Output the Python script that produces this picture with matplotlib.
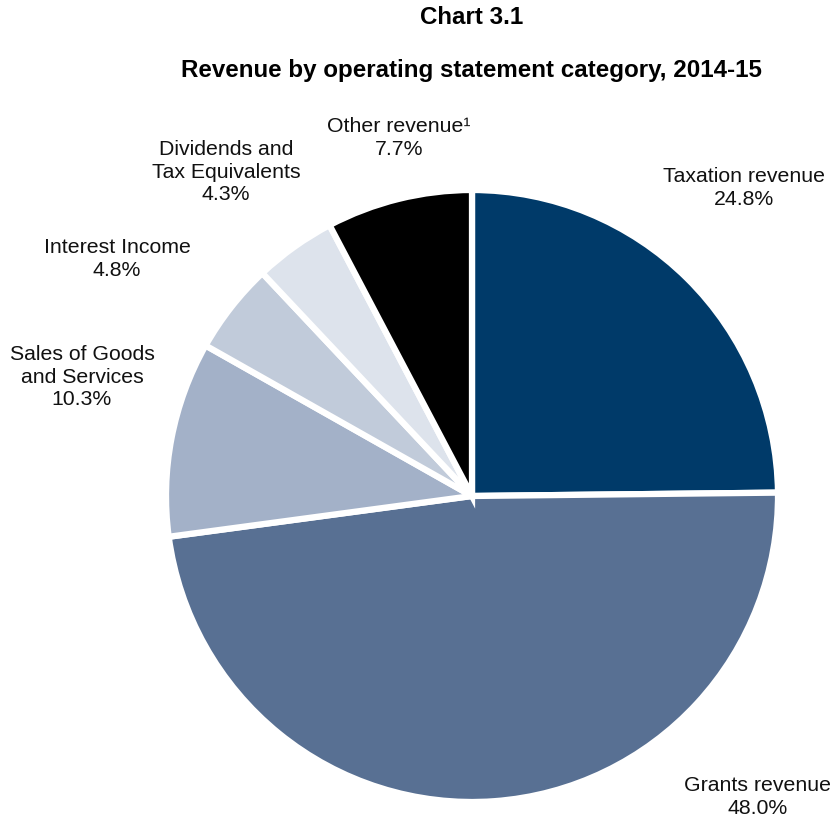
import matplotlib.pyplot as plt

plt.rcParams['font.family'] = ['Liberation Sans', 'DejaVu Sans']

# revenue shares, clockwise from 12 o'clock
categories = ['Taxation revenue', 'Grants revenue', 'Sales of Goods\nand Services',
              'Interest Income', 'Dividends and\nTax Equivalents', 'Other revenue\u00b9']
shares = [24.8, 48.0, 10.3, 4.8, 4.3, 7.7]
colours = ['#003a69', '#587093', '#a3b1c8', '#c1cbda', '#dde3ec', '#000000']

# label anchor points (figure pixels, origin bottom-left)
label_pos = [(744, 629), (758, 20), (82, 440), (117, 558), (226, 645), (399, 679)]

W, H = 833, 817
fig = plt.figure(figsize=(W / 100, H / 100), dpi=100)
ax = fig.add_axes([0, 0, 1, 1])

ax.pie(shares, colors=colours, startangle=90, counterclock=False,
       center=(472, 321), radius=306, frame=True,
       wedgeprops=dict(edgecolor='white', linewidth=4.5))

ax.set_xlim(0, W)
ax.set_ylim(0, H)
ax.set_aspect('equal')
ax.axis('off')

for name, val, (x, y) in zip(categories, shares, label_pos):
    ax.text(x, y, f'{name}\n{val:.1f}%', ha='center', va='center',
            fontsize=15.3, linespacing=1.22, color='#111111')

fig.text(472 / W, 1 - 18 / H, 'Chart 3.1', ha='center', va='center',
         fontsize=17.4, fontweight='bold')
fig.text(471 / W, 1 - 70 / H, 'Revenue by operating statement category, 2014-15',
         ha='center', va='center', fontsize=17.4, fontweight='bold')

plt.savefig('out.png', dpi=100)
